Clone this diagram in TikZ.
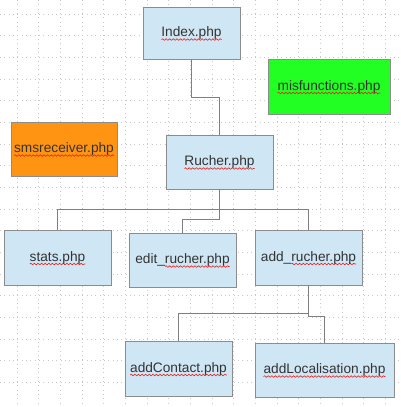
\documentclass[tikz,border=0pt]{standalone}
\usepackage{fontspec}
\setmainfont{Liberation Sans}
\usetikzlibrary{decorations.pathmorphing}
\definecolor{boxblue}{HTML}{CFE6F4}
\definecolor{boxline}{HTML}{8C8C8C}
\definecolor{wireline}{HTML}{7F7F7F}
\definecolor{labeltext}{HTML}{333333}
\definecolor{fileorange}{HTML}{FF9412}
\definecolor{filegreen}{HTML}{22FF22}
\definecolor{gridgray}{HTML}{C8C8C8}
\definecolor{spellred}{HTML}{E82020}
% red wavy line under words the spell checker flags
\newlength\spellwd
\newcommand\spellmark[1]{\settowidth\spellwd{#1}\rlap{\tikz[overlay,baseline=0pt]
  \draw[spellred, line width=0.6pt, decorate, decoration={snake, amplitude=0.8pt, segment length=3.6pt}]
  (0pt,-3pt) -- (\spellwd,-3pt);}#1}
\tikzset{
  phpfile/.style={draw=boxline, line width=0.9pt, fill=boxblue, minimum width=107pt,
    minimum height=55pt, inner sep=0pt, text=labeltext,
    font=\fontsize{13.7}{16}\selectfont},
  wire/.style={draw=wireline, line width=0.9pt},
  gridline/.style={draw=gridgray, line width=0.8pt, dash pattern=on 1pt off 3.33pt}
}
\begin{document}
\begin{tikzpicture}[x=1pt,y=-1pt]
  \useasboundingbox (0,0) rectangle (400,407);
  \fill[white] (0,0) rectangle (400,407);
  % dotted background grid
  \foreach \k in {0,...,17} {
    \draw[gridline] (17+21.67*\k,0) -- (17+21.67*\k,407);
    \draw[gridline] (0,14+21.67*\k) -- (400,14+21.67*\k);
  }

  \node[phpfile, minimum width=97pt, minimum height=52pt] (idx) at (191.5,33) {\spellmark{Index.php}};
  \node[phpfile, fill=filegreen, minimum width=122pt] (misf) at (329,86.5) {\spellmark{misfunctions.php}};
  \node[phpfile, fill=fileorange, minimum width=106pt, minimum height=54pt] (sms) at (64,149) {\spellmark{smsreceiver.php}};
  \node[phpfile, minimum height=54pt] (ruch) at (219.5,162) {\spellmark{Rucher.php}};
  \node[phpfile] (stats) at (57.5,257.5) {\spellmark{stats.php}};
  \node[phpfile, minimum height=54pt] (editr) at (182.5,260) {edit\_\spellmark{rucher.php}};
  \node[phpfile] (addr) at (308.5,257.5) {add\_\spellmark{rucher.php}};
  \node[phpfile] (contact) at (178.5,368.5) {\spellmark{addContact.php}};
  \node[phpfile, minimum width=139pt, minimum height=54pt] (loc) at (324.5,370) {\spellmark{addLocalisation.php}};

  % elbow links
  \draw[wire] (idx.south) -- ++(0,38) -| (ruch.north);
  \draw[wire] (ruch.south) -- ++(0,20) -| (stats.north);
  \draw[wire] (ruch.south) -- ++(0,20) -| (addr.north);
  \draw[wire] (ruch.south) -- ++(0,30) -| (editr.north);
  \draw[wire] (addr.south) -- ++(0,28) -| (contact.north);
  \draw[wire] (addr.south) -- ++(0,31) -| (loc.north);
\end{tikzpicture}
\end{document}
